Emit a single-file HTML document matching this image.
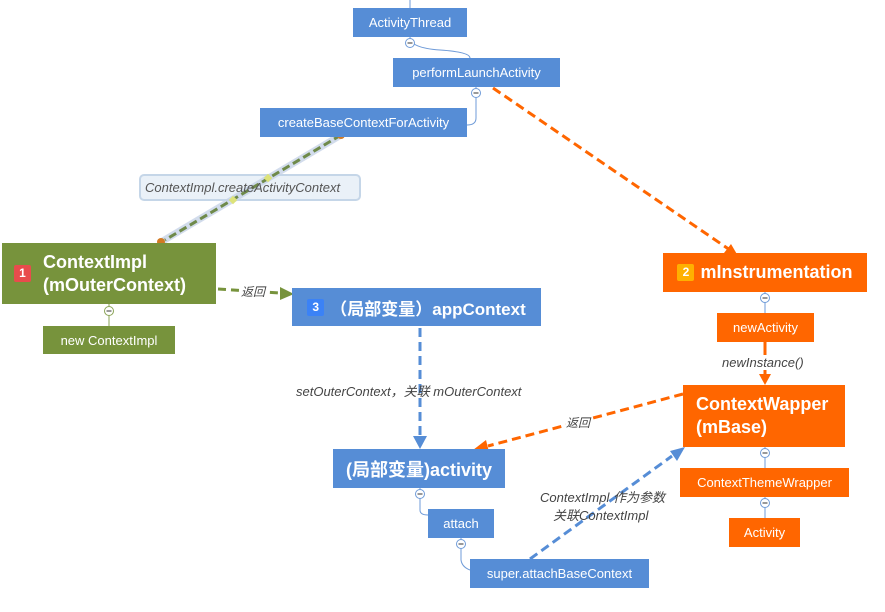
<!DOCTYPE html>
<html><head><meta charset="utf-8"><style>
body{margin:0;width:885px;height:612px;background:#fff;position:relative;overflow:hidden;font-family:"Liberation Sans","Noto Sans CJK SC",sans-serif}
.n{position:absolute;color:#fff;display:flex;align-items:center;justify-content:center;font-size:13px;box-sizing:border-box;z-index:2}
.b{background:#568dd6}.o{background:#ff6600}.g{background:#77933c}
.big{font-weight:bold;font-size:18px}
.lbl{position:absolute;font-style:italic;font-size:13px;color:#444;white-space:nowrap;z-index:3}
.wb{background:#fff}
.badge{display:inline-block;width:17px;height:17px;line-height:17px;text-align:center;font-size:12px;border-radius:2px;margin-right:6px;font-weight:bold}
svg{position:absolute;left:0;top:0;z-index:1}
</style></head><body>
<div style="position:absolute;left:139px;top:174px;width:222px;height:27px;border:2px solid #c5d6e8;border-radius:5px;background:#eaf1f8;box-sizing:border-box;z-index:0"></div>
<svg width="885" height="612">
<g fill="none" stroke="#6f9bd8" stroke-width="1">
<path d="M410 0V8"/><path d="M410 37 Q410 48 440 50 Q470 52 470 58"/>
<path d="M476 87 V118 Q476 125 467 125"/>
<path d="M420 488 V510 Q420 515 428 515"/>
<path d="M461 538 V560 Q462 567 470 570"/>
<path d="M765 292V313"/><path d="M765 447V468"/><path d="M765 497V518"/>
</g>
<path d="M109 304V326" stroke="#8aa356"/>
<g fill="#fff" stroke="#6f9bd8">
<circle cx="410" cy="43" r="4.5"/><circle cx="476" cy="93" r="4.5"/><circle cx="420" cy="494" r="4.5"/><circle cx="461" cy="544" r="4.5"/><circle cx="765" cy="298" r="4.5"/><circle cx="765" cy="453" r="4.5"/><circle cx="765" cy="503" r="4.5"/>
</g>
<circle cx="109" cy="311" r="4.5" fill="#fff" stroke="#8aa356"/>
<g stroke="#333" stroke-width="1"><path d="M407.5 43h5M473.5 93h5M417.5 494h5M458.5 544h5M762.5 298h5M762.5 453h5M762.5 503h5M106.5 311h5"/></g>
<line x1="341" y1="135" x2="161" y2="242" stroke="#c8d4e8" stroke-width="7" opacity="0.8"/>
<line x1="341" y1="135" x2="165" y2="240" stroke="#6f8a4a" stroke-width="3" stroke-dasharray="8,4"/>
<rect x="265" y="175" width="6" height="6" fill="#dde37a" transform="rotate(45 268 178)"/>
<rect x="230" y="197" width="6" height="6" fill="#dde37a" transform="rotate(45 233 200)"/>
<circle cx="341" cy="135" r="4" fill="#d27a24"/><circle cx="161" cy="242" r="4" fill="#d27a24"/>
<path d="M493 88 L730 250" stroke="#ff6600" stroke-width="3" stroke-dasharray="9,5"/>
<path d="M738 256 l-14 -3 l7 -9z" fill="#ff6600"/>
<path d="M218 289 L280 293" stroke="#77933c" stroke-width="3" stroke-dasharray="8,5"/>
<path d="M294 294 l-14 -7 v13z" fill="#77933c"/>
<path d="M420 328 V436" stroke="#568dd6" stroke-width="3" stroke-dasharray="9,5"/>
<path d="M420 449 l-7 -13 h14z" fill="#568dd6"/>
<path d="M683 394 L488 446" stroke="#ff6600" stroke-width="3" stroke-dasharray="9,5"/>
<path d="M473 450 l13 -10 l3 12z" fill="#ff6600"/>
<path d="M530 559 L672 456" stroke="#568dd6" stroke-width="3" stroke-dasharray="9,5"/>
<path d="M685 447 l-15 4 l7 10z" fill="#568dd6"/>
<path d="M765 342V375" stroke="#ff6600" stroke-width="3"/>
<path d="M765 385 l-6 -11 h12z" fill="#ff6600"/>
</svg>
<div class="lbl" style="left:145px;top:180px;color:#555">ContextImpl.createActivityContext</div>
<div class="n b" style="left:353px;top:8px;width:114px;height:29px">ActivityThread</div>
<div class="n b" style="left:393px;top:58px;width:167px;height:29px">performLaunchActivity</div>
<div class="n b" style="left:260px;top:108px;width:207px;height:29px">createBaseContextForActivity</div>
<div class="n g big" style="left:2px;top:243px;width:214px;height:61px;justify-content:flex-start;padding-left:12px"><span class="badge" style="background:#e84c4c">1</span><span style="margin-left:6px;line-height:23px">ContextImpl<br>(mOuterContext)</span></div>
<div class="n g" style="left:43px;top:326px;width:132px;height:28px">new ContextImpl</div>
<div class="n b big" style="left:292px;top:288px;width:249px;height:38px;font-size:17px"><span class="badge" style="background:#3b82f6">3</span>（局部变量）appContext</div>
<div class="n o big" style="left:663px;top:253px;width:204px;height:39px"><span class="badge" style="background:#ffb000">2</span>mInstrumentation</div>
<div class="n o" style="left:717px;top:313px;width:97px;height:29px">newActivity</div>
<div class="n o big" style="left:683px;top:385px;width:162px;height:62px;justify-content:flex-start;padding-left:13px;line-height:23px">ContextWapper<br>(mBase)</div>
<div class="n o" style="left:680px;top:468px;width:169px;height:29px">ContextThemeWrapper</div>
<div class="n o" style="left:729px;top:518px;width:71px;height:29px">Activity</div>
<div class="n b big" style="left:333px;top:449px;width:172px;height:39px">(局部变量)activity</div>
<div class="n b" style="left:428px;top:509px;width:66px;height:29px">attach</div>
<div class="n b" style="left:470px;top:559px;width:179px;height:29px">super.attachBaseContext</div>
<div class="lbl wb" style="left:241px;top:283px;font-size:12px">返回</div>
<div class="lbl wb" style="left:722px;top:355px">newInstance()</div>
<div class="lbl" style="left:296px;top:381px">setOuterContext，关联 mOuterContext</div>
<div class="lbl wb" style="left:566px;top:414px;font-size:12px">返回</div>
<div class="lbl" style="left:540px;top:487px">ContextImpl 作为参数</div>
<div class="lbl" style="left:553px;top:505px">关联ContextImpl</div>
</body></html>
